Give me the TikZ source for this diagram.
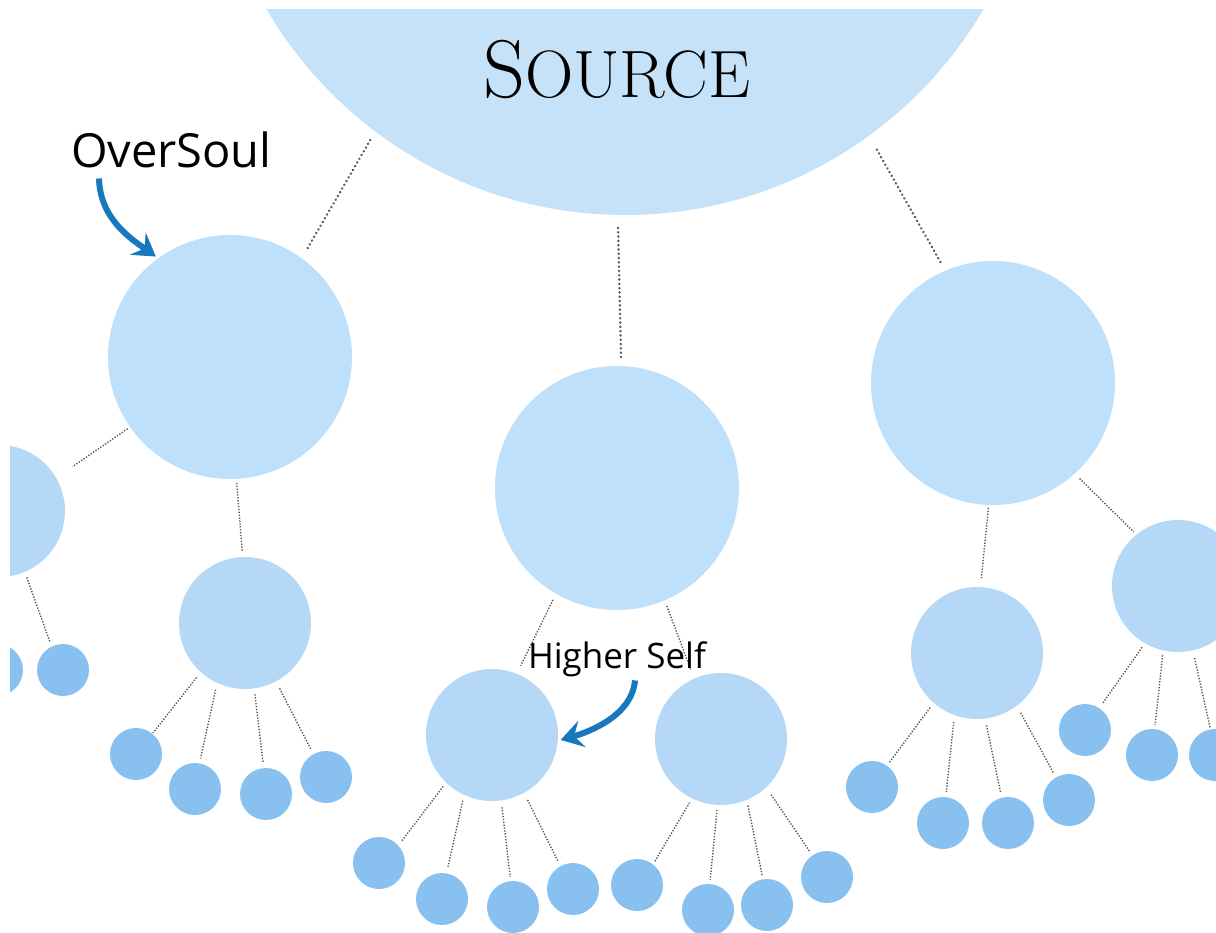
\documentclass[tikz,border=0pt]{standalone}
\usepackage{fontspec}
\newfontfamily\tagsans{Open Sans}
\usetikzlibrary{arrows.meta}

\definecolor{srcC}{RGB}{198,226,248}
\definecolor{bigC}{RGB}{190,224,251}
\definecolor{midC}{RGB}{180,216,245}
\definecolor{leafC}{RGB}{136,193,239}
\definecolor{linkC}{RGB}{85,85,85}
\definecolor{arrowC}{RGB}{24,120,188}

\tikzset{
  orb/.style={circle, inner sep=0pt, outer sep=0pt},
  srcorb/.style={orb, fill=srcC, minimum size=830pt},
  bigorb/.style={orb, fill=bigC, minimum size=244pt},
  midorb/.style={orb, fill=midC, minimum size=132pt},
  leaforb/.style={orb, fill=leafC, minimum size=52pt},
  link/.style={draw=linkC, line width=2.6pt, line cap=round, dash pattern=on 0.1pt off 4.2pt},
  sublink/.style={draw=linkC, line width=1.4pt, dash pattern=on 1.3pt off 1.6pt},
  pointer/.style={draw=arrowC, line width=6pt,
    -{Stealth[length=22pt,width=27pt,inset=8pt]}},
  tag/.style={anchor=base west, inner sep=0pt, outer sep=0pt}
}

\begin{document}
\begin{tikzpicture}[x=1pt, y=-1pt]
\useasboundingbox (0,0) rectangle (1216,933);
\begin{scope}
\clip (10,10) rectangle (1216,933);

% the source and the three oversouls
\node[srcorb] (src) at (625,-200) {};
\node[bigorb] (bL) at (230,357) {};
\node[bigorb] (bM) at (617,488) {};
\node[bigorb] (bR) at (993,383) {};

% higher selves
\node[midorb] (mLL) at (-1,511) {};
\node[midorb] (mL)  at (245,623) {};
\node[midorb] (hs)  at (492,735) {};
\node[midorb] (mM)  at (721,739) {};
\node[midorb] (mR)  at (977,653) {};
\node[midorb] (mRR) at (1178,586) {};

% incarnations
\node[leaforb] (s0)  at (-3,670) {};
\node[leaforb] (s00) at (63,670) {};
\node[leaforb] (s1)  at (136,754) {};
\node[leaforb] (s2)  at (195,789) {};
\node[leaforb] (s3)  at (266,794) {};
\node[leaforb] (s4)  at (326,777) {};
\node[leaforb] (s5)  at (379,863) {};
\node[leaforb] (s6)  at (442,899) {};
\node[leaforb] (s7)  at (513,907) {};
\node[leaforb] (s8)  at (573,889) {};
\node[leaforb] (s9)  at (637,885) {};
\node[leaforb] (s10) at (708,910) {};
\node[leaforb] (s11) at (767,905) {};
\node[leaforb] (s12) at (827,877) {};
\node[leaforb] (s13) at (872,787) {};
\node[leaforb] (s14) at (943,823) {};
\node[leaforb] (s15) at (1008,823) {};
\node[leaforb] (s16) at (1069,800) {};
\node[leaforb] (s17) at (1085,730) {};
\node[leaforb] (s18) at (1152,755) {};
\node[leaforb] (s19) at (1215,755) {};

% dotted links from the source
\draw[link, shorten <=10pt, shorten >=8pt] (src.233.6) -- (bL.54.7);
\draw[link, shorten <=13pt, shorten >=9pt] (src.269.7) -- (bM.88.7);
\draw[link, shorten <=16pt, shorten >=6pt] (src.306.2) -- (bR.113);

% dotted links further down
\draw[sublink, shorten <=3pt, shorten >=20pt] (bL.215.2) -- (mLL.30.2);
\draw[sublink, shorten <=4pt, shorten >=5pt] (bL.273.2) -- (mL.92.4);
\draw[sublink, shorten <=7pt, shorten >=9pt] (bM.240.3) -- (hs.68.2);
\draw[sublink, shorten <=6pt, shorten >=10pt] (bM.293.6) -- (mM.114.2);
\draw[sublink, shorten <=3pt, shorten >=9pt] (bR.268.2) -- (mR.87.7);
\draw[sublink, shorten <=7pt, shorten >=4pt] (bR.312.5) -- (mRR.129.8);

\draw[sublink, shorten <=6pt, shorten >=5pt] (mLL.293) -- (s00.116.6);

\draw[sublink, shorten <=7pt, shorten >=1pt] (mL.228.9) -- (s1.51);
\draw[sublink, shorten <=7pt, shorten >=5pt] (mL.245.9) -- (s2.80.8);
\draw[sublink, shorten <=6pt, shorten >=5pt] (mL.278.8) -- (s3.95.5);
\draw[sublink, shorten <=8pt, shorten >=5pt] (mL.298.3) -- (s4.119);

\draw[sublink, shorten <=5pt, shorten >=5pt] (hs.226.7) -- (s5.42.4);
\draw[sublink, shorten <=6pt, shorten >=5pt] (hs.245.2) -- (s6.80.8);
\draw[sublink, shorten <=7pt, shorten >=4pt] (hs.278.7) -- (s7.95.7);
\draw[sublink, shorten <=8pt, shorten >=5pt] (hs.299) -- (s8.119);

\draw[sublink, shorten <=5pt, shorten >=3pt] (mM.244.9) -- (s9.52);
\draw[sublink, shorten <=5pt, shorten >=4pt] (mM.267.6) -- (s10.86.2);
\draw[sublink, shorten <=6pt, shorten >=4pt] (mM.293.7) -- (s11.99.5);
\draw[sublink, shorten <=9pt, shorten >=4pt] (mM.313.9) -- (s12.124.2);

\draw[sublink, shorten <=6pt, shorten >=4pt] (mR.229.5) -- (s13.55.8);
\draw[sublink, shorten <=7pt, shorten >=5pt] (mR.250.8) -- (s14.84.5);
\draw[sublink, shorten <=7pt, shorten >=5pt] (mR.277.1) -- (s15.104.9);
\draw[sublink, shorten <=8pt, shorten >=5pt] (mR.307.3) -- (s16.120.7);

\draw[sublink, shorten <=5pt, shorten >=6pt] (mRR.240.6) -- (s17.57.8);
\draw[sublink, shorten <=5pt, shorten >=4pt] (mRR.257.7) -- (s18.84.3);
\draw[sublink, shorten <=8pt, shorten >=2pt] (mRR.283.3) -- (s19.100);

% titles
\node[anchor=base, inner sep=0pt] (srcT) at (617,98)
  {\fontsize{82}{82}\selectfont S\fontsize{67}{67}\selectfont OURCE};
\node[tag] (ovs) at (71,168) {\tagsans\fontsize{47}{47}\selectfont OverSoul};
\node[tag] (hsl) at (528,668) {\tagsans\fontsize{35}{35}\selectfont Higher Self};

% pointers
\draw[pointer, shorten >=3pt] ([xshift=28pt,yshift=-10pt]ovs.south west)
  .. controls +(1,40) and +(-28,-20) .. (bL.126);
\draw[pointer, shorten >=3pt] ([xshift=107pt,yshift=-4pt]hsl.south west)
  .. controls +(-3,35) and +(32,-9) .. (hs.-5);
\end{scope}
\end{tikzpicture}
\end{document}
